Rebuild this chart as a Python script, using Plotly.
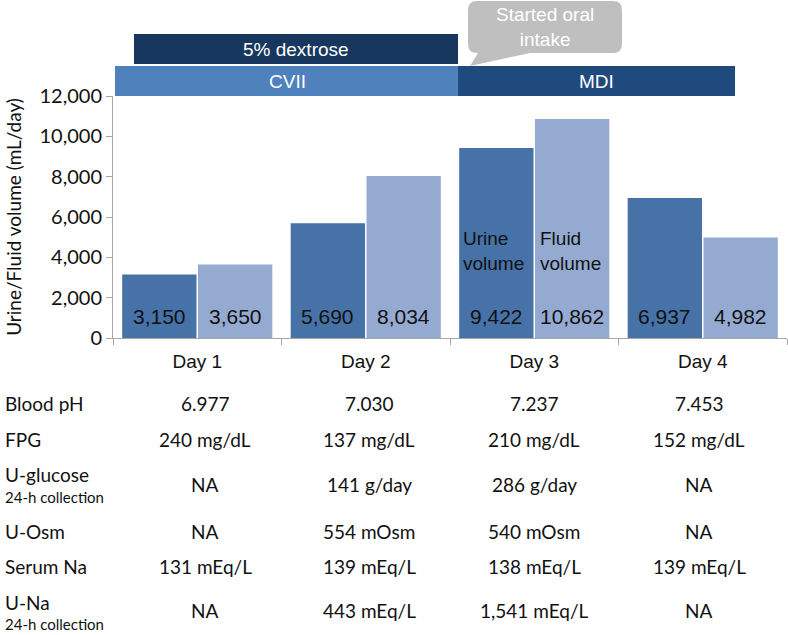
import plotly.graph_objects as go

days = ["Day 1", "Day 2", "Day 3", "Day 4"]
urine_volume = [3150, 5690, 9422, 6937]
fluid_volume = [3650, 8034, 10862, 4982]
y_ticks = [0, 2000, 4000, 6000, 8000, 10000, 12000]

row_labels = ["Blood pH", "FPG", "U-glucose", "U-Osm", "Serum Na", "U-Na"]
row_sublabels = ["", "", "24-h collection", "", "", "24-h collection"]
table_values = [
    ["6.977", "7.030", "7.237", "7.453"],
    ["240 mg/dL", "137 mg/dL", "210 mg/dL", "152 mg/dL"],
    ["NA", "141 g/day", "286 g/day", "NA"],
    ["NA", "554 mOsm", "540 mOsm", "NA"],
    ["131 mEq/L", "139 mEq/L", "138 mEq/L", "139 mEq/L"],
    ["NA", "443 mEq/L", "1,541 mEq/L", "NA"],
]

W, H = 788, 635
ML, MR, MT, MB = 113, 1, 96, 297
PW = W - ML - MR
PH = H - MT - MB


def X(px):
    return (px - ML) / PW


def Y(py):
    return (H - MB - py) / PH


URINE = "#4672A8"
FLUID = "#95AAD1"
ARIAL = "Liberation Sans"
CAL = "Lato"
TXT = "#111111"

fig = go.Figure()
fig.add_trace(go.Bar(x=days, y=urine_volume, name="Urine volume",
                     marker=dict(color=URINE, line=dict(width=0))))
fig.add_trace(go.Bar(x=days, y=fluid_volume, name="Fluid volume",
                     marker=dict(color=FLUID, line=dict(width=0))))


def ann(x, y, text, font, xanchor="center", xref="paper", yref="paper", **kw):
    return dict(x=x, y=y, xref=xref, yref=yref, text=text, showarrow=False,
                xanchor=xanchor, yanchor="middle", font=font, **kw)


annotations = []
for i, d in enumerate(days):
    for vals, shift in ((urine_volume, -38), (fluid_volume, 38)):
        annotations.append(ann(d, 1090, f"{vals[i]:,}",
                               dict(family=ARIAL, size=21, color=TXT),
                               xref="x", yref="y", xshift=shift))
annotations.append(ann("Day 3", Y(251), "Urine<br>volume",
                       dict(family=ARIAL, size=19, color=TXT), xanchor="left",
                       xref="x", xshift=-73, align="left"))
annotations.append(ann("Day 3", Y(251), "Fluid<br>volume",
                       dict(family=ARIAL, size=19, color=TXT), xanchor="left",
                       xref="x", xshift=4, align="left"))

shapes = []
shapes.append(dict(type="rect", xref="paper", yref="paper", x0=X(115), x1=X(458),
                   y0=Y(96), y1=Y(66), fillcolor="#4F81BD", line=dict(width=0),
                   layer="below"))
shapes.append(dict(type="rect", xref="paper", yref="paper", x0=X(458), x1=X(735),
                   y0=Y(96), y1=Y(66), fillcolor="#1F4A7E", line=dict(width=0),
                   layer="below"))
shapes.append(dict(type="rect", xref="paper", yref="paper", x0=X(134), x1=X(458),
                   y0=Y(64), y1=Y(34), fillcolor="#17375E", line=dict(width=0),
                   layer="below"))
annotations.append(ann(X(287), Y(81), "CVII", dict(family=ARIAL, size=19, color="white")))
annotations.append(ann(X(596), Y(81), "MDI", dict(family=ARIAL, size=19, color="white")))
annotations.append(ann(X(296), Y(49), "5% dextrose",
                       dict(family=ARIAL, size=19, color="white")))

bx0, bx1, by0, by1, r = 468, 622, 1, 53, 9
pts = [
    ("M", bx0 + r, by0), ("L", bx1 - r, by0), ("Q", bx1, by0, bx1, by0 + r),
    ("L", bx1, by1 - r), ("Q", bx1, by1, bx1 - r, by1), ("L", 530, by1),
    ("L", 470, 66), ("L", 478, by1), ("L", bx0 + r, by1),
    ("Q", bx0, by1, bx0, by1 - r), ("L", bx0, by0 + r), ("Q", bx0, by0, bx0 + r, by0),
]
path = ""
for p in pts:
    coords = p[1:]
    s = [f"{X(coords[k]):.5f},{Y(coords[k+1]):.5f}" for k in range(0, len(coords), 2)]
    path += p[0] + " " + " ".join(s) + " "
path += "Z"
shapes.append(dict(type="path", xref="paper", yref="paper", path=path,
                   fillcolor="#BFBFBF", line=dict(width=0), layer="below"))
annotations.append(ann(X(545), Y(27), "Started oral<br>intake",
                       dict(family=ARIAL, size=19, color="white")))

row_y = [403, 439, 474, 531, 566, 602]
val_y = [403, 439, 485, 531, 566, 611]
sub_y = [None, None, 497, None, None, 624]
col_x = [205, 369, 534, 699]
for r_i, lab in enumerate(row_labels):
    annotations.append(ann(X(3), Y(row_y[r_i]), lab,
                           dict(family=CAL, size=19, color=TXT), xanchor="left"))
    if row_sublabels[r_i]:
        annotations.append(ann(X(3), Y(sub_y[r_i]), row_sublabels[r_i],
                               dict(family=CAL, size=15, color=TXT), xanchor="left"))
    for c_i, v in enumerate(table_values[r_i]):
        annotations.append(ann(X(col_x[c_i]), Y(val_y[r_i]), v,
                               dict(family=CAL, size=19, color=TXT)))

fig.update_layout(
    width=W, height=H,
    margin=dict(l=ML, r=MR, t=MT, b=MB, pad=0, autoexpand=False),
    plot_bgcolor="white", paper_bgcolor="white",
    barmode="group", bargap=0.1, bargroupgap=0.02,
    showlegend=False,
    shapes=shapes, annotations=annotations,
    xaxis=dict(showline=True, linecolor="#A6A6A6", linewidth=1, ticks="outside",
               tickson="boundaries", ticklen=6, tickcolor="#A6A6A6",
               ticklabelstandoff=6,
               tickfont=dict(family=ARIAL, size=19, color=TXT),
               showgrid=False, zeroline=False),
    yaxis=dict(range=[0, 12000], tickvals=y_ticks,
               ticktext=[f"{v:,}" for v in y_ticks],
               showline=True, linecolor="#A6A6A6", linewidth=1, ticks="outside",
               ticklen=6, tickcolor="#A6A6A6", showgrid=False, zeroline=False,
               tickfont=dict(family=CAL, size=20, color=TXT),
               title=dict(text="Urine/Fluid volume (mL/day)", standoff=12,
                          font=dict(family=CAL, size=19, color=TXT))),
)

fig.write_html("out.html", config={"displayModeBar": False},
               post_script="document.body.style.margin='0';document.body.style.overflow='hidden';")
